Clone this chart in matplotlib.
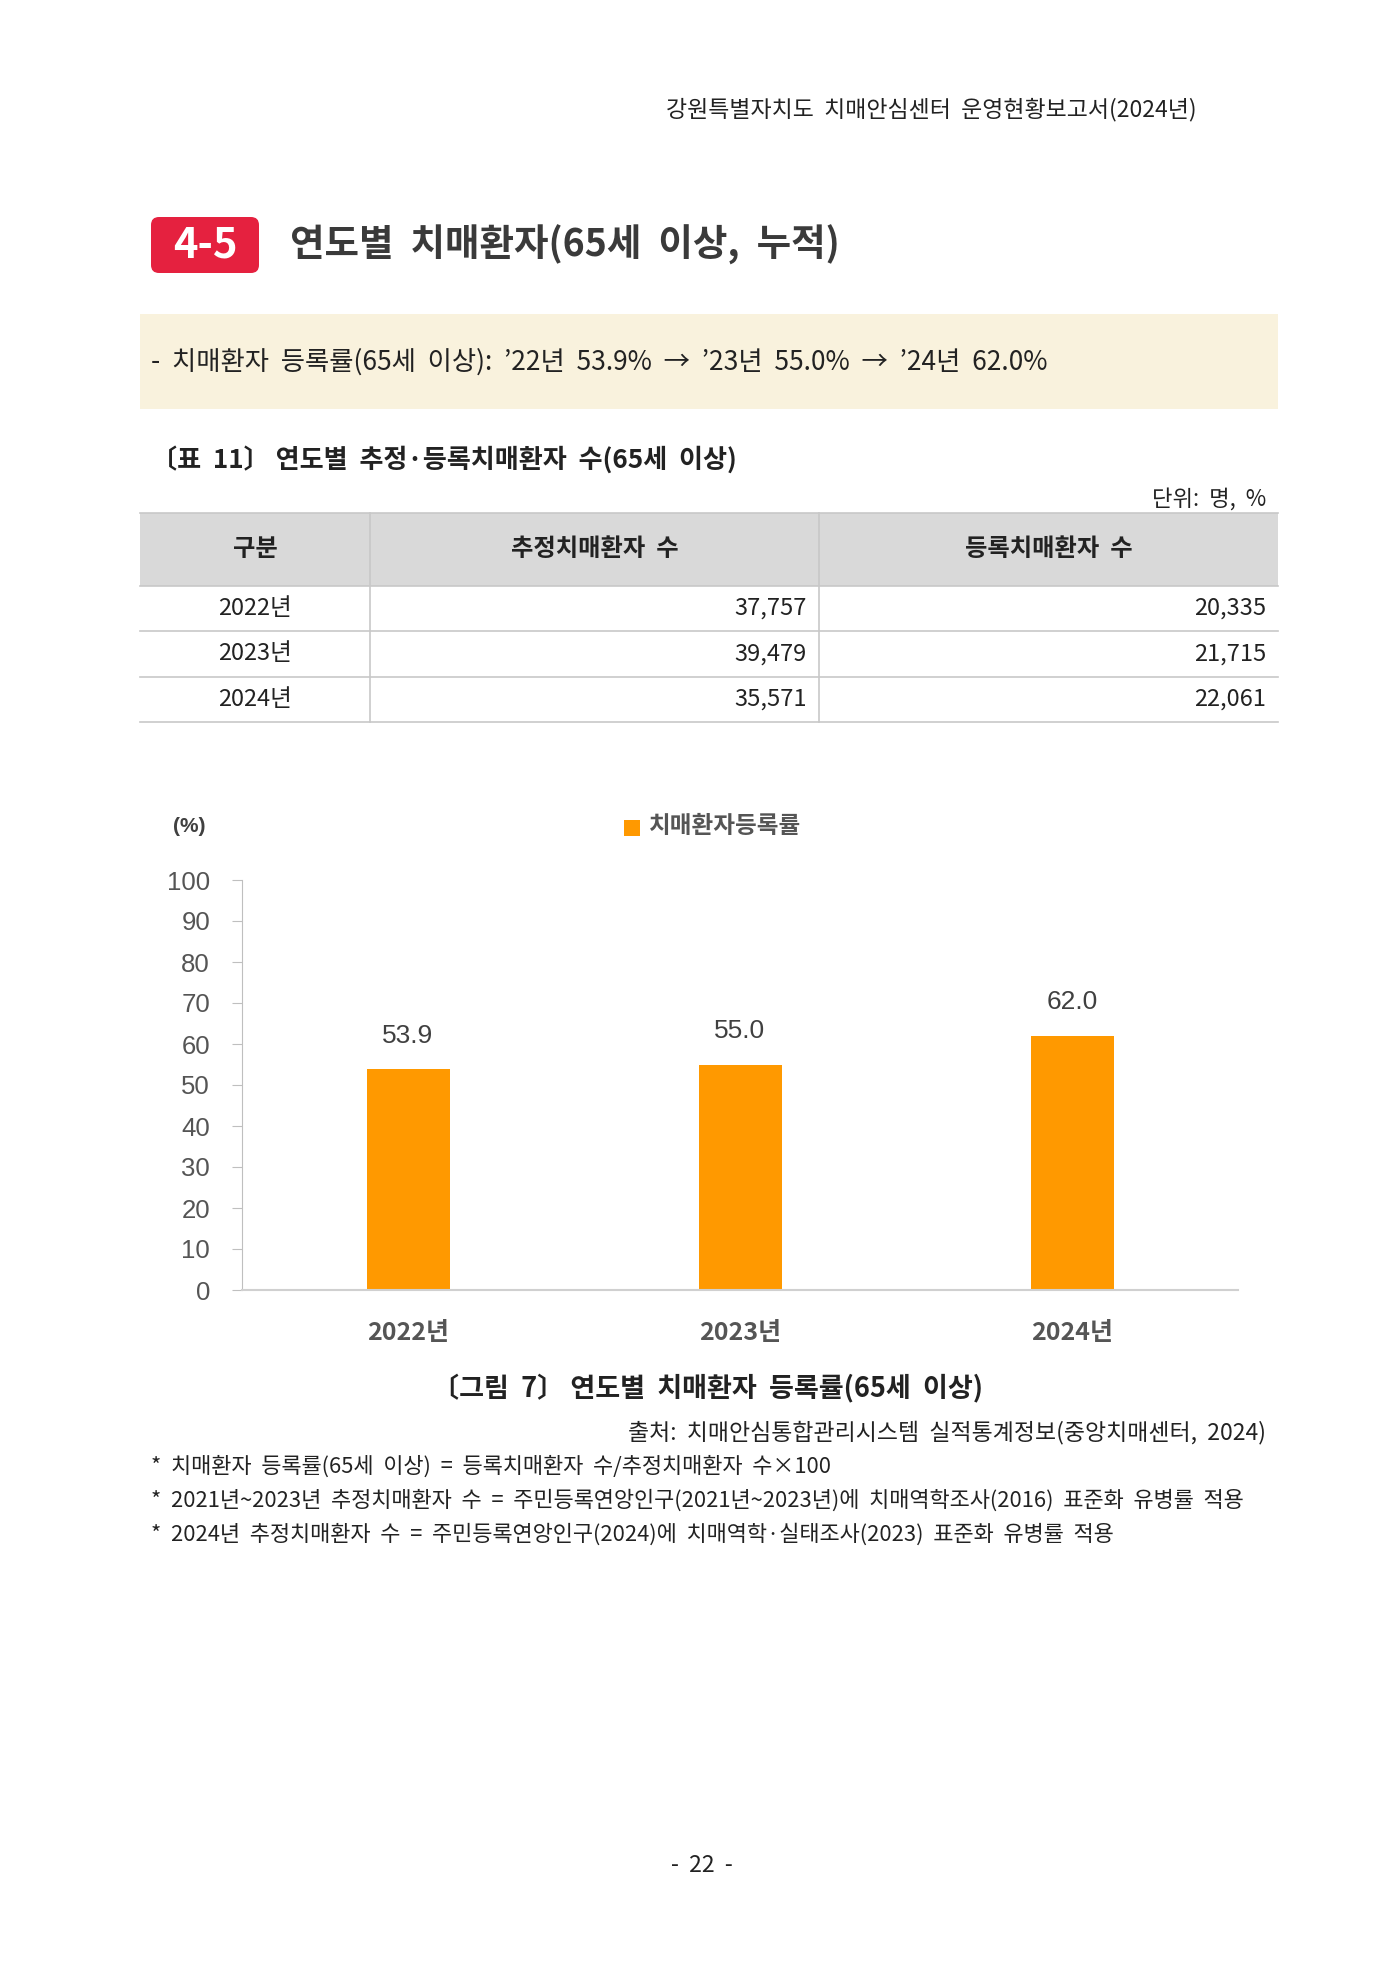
import matplotlib
matplotlib.use("Agg")
import matplotlib.pyplot as plt
from matplotlib.patches import Rectangle, FancyBboxPatch

plt.rcParams['font.family'] = ['Noto Sans CJK KR', 'DejaVu Sans']

# data
years = ['2022년', '2023년', '2024년']
est_patients = [37757, 39479, 35571]
reg_patients = [20335, 21715, 22061]
reg_rate = [53.9, 55.0, 62.0]
y_ticks = [0, 10, 20, 30, 40, 50, 60, 70, 80, 90, 100]

col_headers = ['구분', '추정치매환자  수', '등록치매환자  수']
notes = [
    '*  치매환자  등록률(65세  이상)  =  등록치매환자  수/추정치매환자  수×100',
    '*  2021년~2023년  추정치매환자  수  =  주민등록연앙인구(2021년~2023년)에  치매역학조사(2016)  표준화  유병률  적용',
    '*  2024년  추정치매환자  수  =  주민등록연앙인구(2024)에  치매역학·실태조사(2023)  표준화  유병률  적용',
]

fig = plt.figure(figsize=(14, 19.8), dpi=100)
fig.patch.set_facecolor('white')

# page layer, pixel coords from top-left
page = fig.add_axes([0, 0, 1, 1])
page.set_xlim(0, 1400)
page.set_ylim(1980, 0)
page.axis('off')

txt = '#222222'

page.text(1197, 110, '강원특별자치도  치매안심센터  운영현황보고서(2024년)',
          ha='right', va='center', fontsize=16.5, color=txt)

# section title
page.add_patch(FancyBboxPatch((151, 217), 108, 56, boxstyle='round,pad=0,rounding_size=8',
                              fc='#E5213F', ec='none'))
page.text(205, 245, '4-5', ha='center', va='center', fontsize=30, color='white',
          fontweight='bold')
page.text(290, 245, '연도별  치매환자(65세  이상,  누적)', ha='left', va='center',
          fontsize=27, color='#3a3a3a', fontweight='bold')

# summary box
page.add_patch(Rectangle((140, 314), 1138, 95, fc='#F9F2DD', ec='none'))
page.text(151, 362, '-  치매환자  등록률(65세  이상):  ’22년  53.9%  →  ’23년  55.0%  →  ’24년  62.0%',
          ha='left', va='center', fontsize=19, color=txt)

# table
page.text(151, 460, '〔표  11〕 연도별  추정·등록치매환자  수(65세  이상)', ha='left', va='center',
          fontsize=18.8, color=txt, fontweight='bold')
page.text(1266, 499, '단위:  명,  %', ha='right', va='center', fontsize=16, color=txt)

col_x = [140, 370, 819, 1278]
row_y = [513, 586, 631, 677, 722]
page.add_patch(Rectangle((140, 513), 1138, 73, fc='#D9D9D9', ec='none'))
for y in row_y:
    page.plot([140, 1278], [y, y], color='#C8C8C8', lw=1.2)
for x in col_x[1:-1]:
    page.plot([x, x], [513, 722], color='#C8C8C8', lw=1.2)
for i, h in enumerate(col_headers):
    page.text((col_x[i] + col_x[i + 1]) / 2, 549, h, ha='center', va='center',
              fontsize=17.5, color=txt, fontweight='bold')
for r, (yr, e, g) in enumerate(zip(years, est_patients, reg_patients)):
    yc = (row_y[r + 1] + row_y[r + 2]) / 2
    page.text((col_x[0] + col_x[1]) / 2, yc, yr, ha='center', va='center', fontsize=17, color=txt)
    page.text(col_x[2] - 12, yc, f'{e:,}', ha='right', va='center', fontsize=17, color=txt)
    page.text(col_x[3] - 12, yc, f'{g:,}', ha='right', va='center', fontsize=17, color=txt)

# chart
gray = '#555555'
ax = fig.add_axes([242 / 1400, 1 - 1290 / 1980, (1238 - 242) / 1400, 410 / 1980])
ax.set_facecolor('none')
x = range(len(years))
bars = ax.bar(x, reg_rate, width=0.25, color='#FF9900', zorder=2)
ax.set_xlim(-0.5, 2.5)
ax.set_ylim(0, 100)
ax.set_yticks(y_ticks)
ax.set_xticks(list(x))
ax.set_xticklabels(years, fontsize=18, color=gray, fontweight='bold')
ax.tick_params(axis='x', length=0, pad=22)
ax.tick_params(axis='y', length=7, color='#BFBFBF', labelsize=18.5, labelcolor=gray, pad=16)
for lab in ax.get_yticklabels():
    lab.set_family(['Liberation Sans', 'DejaVu Sans'])
for s in ['top', 'right']:
    ax.spines[s].set_visible(False)
ax.spines['left'].set_color('#BFBFBF')
ax.spines['bottom'].set_color('#D0D0D0')
ax.spines['bottom'].set_linewidth(1.5)
for b, v in zip(bars, reg_rate):
    ax.annotate(f'{v:.1f}', (b.get_x() + b.get_width() / 2, v), xytext=(0, 24),
                textcoords='offset points', ha='center', va='center', fontsize=19,
                color='#404040', family=['Liberation Sans', 'DejaVu Sans'])

page.text(189, 827, '(%)', ha='center', va='center', fontsize=15, color='#404040',
          family=['Liberation Sans', 'DejaVu Sans'], fontweight='bold')
page.add_patch(Rectangle((624, 820), 16, 16, fc='#FF9900', ec='none'))
page.text(649, 826, '치매환자등록률', ha='left', va='center', fontsize=17, color=gray,
          fontweight='bold')

# caption and notes
page.text(707, 1389, '〔그림  7〕 연도별  치매환자  등록률(65세  이상)', ha='center', va='center',
          fontsize=19.5, color=txt, fontweight='bold')
page.text(1266, 1432, '출처:  치매안심통합관리시스템  실적통계정보(중앙치매센터,  2024)',
          ha='right', va='center', fontsize=16.5, color=txt)
for i, n in enumerate(notes):
    page.text(151, 1467 + i * 34, n, ha='left', va='center', fontsize=15.8, color=txt)

page.text(702, 1866, '-  22  -', ha='center', va='center', fontsize=16.5, color=txt)

fig.savefig('out.png', dpi=100, facecolor='white')
